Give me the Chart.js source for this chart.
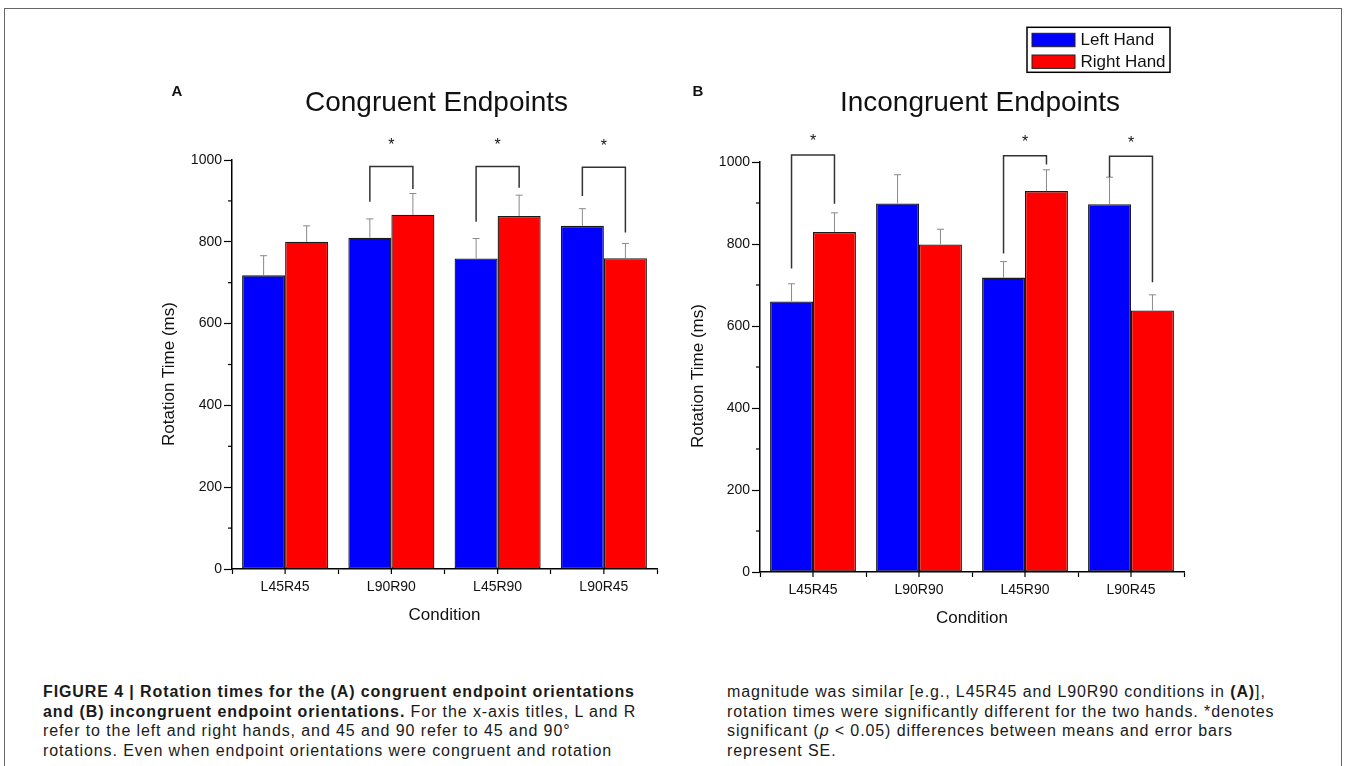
<!DOCTYPE html>
<html><head><meta charset="utf-8">
<script src="https://cdn.jsdelivr.net/npm/chart.js@4"></script>
<style>
html,body{margin:0;padding:0;background:#fff;width:1346px;height:766px;overflow:hidden;font-family:"Liberation Sans",Arial,sans-serif;}
#frame{position:absolute;left:4px;top:8px;width:1338px;height:800px;border:1px solid #666;box-sizing:border-box;}
canvas{position:absolute;top:0;}
#cA{left:150px;}
#cB{left:680px;}
.cap{position:absolute;font-size:16px;letter-spacing:0.9px;line-height:19.7px;color:#1a1a1a;white-space:nowrap;}
#capL{left:43px;top:682px;}
#capR{left:727px;top:682px;}
</style></head><body>
<div id="frame"></div>
<canvas id="cA" width="573" height="640"></canvas>
<canvas id="cB" width="560" height="640"></canvas>
<div class="cap" id="capL"><b>FIGURE 4 | Rotation times for the (A) congruent endpoint orientations</b><br><b>and (B) incongruent endpoint orientations.</b> For the x-axis titles, L and R<br>refer to the left and right hands, and 45 and 90 refer to 45 and 90°<br>rotations. Even when endpoint orientations were congruent and rotation</div>
<div class="cap" id="capR">magnitude was similar [e.g., L45R45 and L90R90 conditions in <b>(A)</b>],<br>rotation times were significantly different for the two hands. *denotes<br>significant (<i>p</i> &lt; 0.05) differences between means and error bars<br>represent SE.</div>
<script>
const categories = ['L45R45', 'L90R90', 'L45R90', 'L90R45'];
const seriesNames = ['Left Hand', 'Right Hand'];
const yTicks = [0, 200, 400, 600, 800, 1000];
const yMinorTicks = [100, 300, 500, 700, 900];

const congruentLeft = [718, 810, 759, 839];
const congruentRight = [800, 866, 863, 760];
const congruentLeftSE = [48, 46, 49, 42];
const congruentRightSE = [39, 52, 51, 36];
const congruentBracketTop = [null, 984, 984, 982];
const congruentBracketLeftEnd = [null, 898, 849, 912];
const congruentBracketRightEnd = [null, 929, 932, 823];

const incongruentLeft = [660, 899, 718, 897];
const incongruentRight = [829, 799, 929, 638];
const incongruentLeftSE = [43, 70, 39, 66];
const incongruentRightSE = [47, 37, 52, 38];
const incongruentBracketTop = [1017, null, 1015, 1014];
const incongruentBracketLeftEnd = [740, null, 777, 963];
const incongruentBracketRightEnd = [898, null, 994, 707];

const yAxisTitle = 'Rotation Time (ms)';
const xAxisTitle = 'Condition';

const FONT = '"Liberation Sans", Arial, sans-serif';
const seriesColors = ['#0000ff', '#ff0000'];

const decor = {
  id: 'decor',
  afterDatasetsDraw(chart, args, o) {
    const ctx = chart.ctx, xs = chart.scales.x, ys = chart.scales.y;
    const area = chart.chartArea;
    ctx.save();
    ctx.strokeStyle = '#000'; ctx.lineWidth = 1.2;
    yMinorTicks.forEach(v => {
      const py = ys.getPixelForValue(v);
      ctx.beginPath(); ctx.moveTo(area.left - 4, py); ctx.lineTo(area.left, py); ctx.stroke();
    });
    categories.forEach((c, i) => {
      const px = xs.getPixelForValue(i);
      ctx.beginPath(); ctx.moveTo(px, area.bottom); ctx.lineTo(px, area.bottom + 5); ctx.stroke();
    });
    ctx.strokeStyle = '#8a8a8a'; ctx.lineWidth = 1;
    chart.data.datasets.forEach((ds, di) => {
      const meta = chart.getDatasetMeta(di);
      ds.data.forEach((v, j) => {
        const px = meta.data[j].x;
        const y0 = ys.getPixelForValue(v);
        const y1 = ys.getPixelForValue(v + ds.se[j]);
        ctx.beginPath();
        ctx.moveTo(px, y0); ctx.lineTo(px, y1);
        ctx.moveTo(px - 3.5, y1); ctx.lineTo(px + 3.5, y1);
        ctx.stroke();
      });
    });
    const m0 = chart.getDatasetMeta(0), m1 = chart.getDatasetMeta(1);
    ctx.strokeStyle = '#333'; ctx.lineWidth = 1.5;
    ctx.fillStyle = '#111';
    ctx.font = '16px ' + FONT; ctx.textAlign = 'center'; ctx.textBaseline = 'middle';
    o.bracketTop.forEach((t, j) => {
      if (t === null) return;
      const xl = m0.data[j].x, xr = m1.data[j].x;
      const yt = ys.getPixelForValue(t);
      ctx.beginPath();
      ctx.moveTo(xl, ys.getPixelForValue(o.bracketLeftEnd[j]));
      ctx.lineTo(xl, yt); ctx.lineTo(xr, yt);
      ctx.lineTo(xr, ys.getPixelForValue(o.bracketRightEnd[j]));
      ctx.stroke();
      ctx.fillText('*', (xl + xr) / 2, yt - o.starOffset);
    });
    ctx.restore();
  },
  afterDraw(chart, args, o) {
    const ctx = chart.ctx;
    ctx.save();
    ctx.fillStyle = '#111';
    ctx.textBaseline = 'middle';
    ctx.textAlign = 'center';
    ctx.font = '28px ' + FONT;
    ctx.fillText(o.title, o.titleX, o.titleY);
    ctx.font = 'bold 15px ' + FONT;
    ctx.fillText(o.letter, o.letterX, o.letterY);
    ctx.save();
    ctx.translate(o.yTitleX, o.yTitleY);
    ctx.rotate(-Math.PI / 2);
    ctx.font = '17px ' + FONT;
    ctx.fillText(yAxisTitle, 0, 0);
    ctx.restore();
    if (o.legend) {
      const L = o.legend;
      ctx.lineWidth = 1.5; ctx.strokeStyle = '#000';
      ctx.strokeRect(L.x, L.y, L.w, L.h);
      ctx.font = '17px ' + FONT; ctx.textAlign = 'left';
      chart.data.datasets.forEach((ds, i) => {
        const sy = L.y + 6 + i * 21.7;
        ctx.fillStyle = ds.backgroundColor;
        ctx.fillRect(L.x + 5, sy, 43, 13.4);
        ctx.lineWidth = 1; ctx.strokeStyle = '#222';
        ctx.strokeRect(L.x + 5, sy, 43, 13.4);
        ctx.fillStyle = '#111';
        ctx.fillText(ds.label, L.x + 53.5, sy + 7);
      });
    }
    ctx.restore();
  }
};

function makeChart(id, leftVals, rightVals, leftSE, rightSE, opts) {
  return new Chart(document.getElementById(id), {
    type: 'bar',
    data: {
      labels: categories,
      datasets: [
        { label: seriesNames[0], data: leftVals, se: leftSE, backgroundColor: seriesColors[0] },
        { label: seriesNames[1], data: rightVals, se: rightSE, backgroundColor: seriesColors[1] }
      ]
    },
    options: {
      responsive: false,
      animation: false,
      devicePixelRatio: 1,
      layout: { padding: { left: 0, right: opts.padRight, top: opts.padTop, bottom: opts.padBottom } },
      datasets: { bar: { categoryPercentage: 0.81, barPercentage: 1.0, borderWidth: 1.3, borderColor: '#1a1a1a', borderSkipped: false } },
      plugins: {
        legend: { display: false },
        tooltip: { enabled: false },
        decor: opts.decor
      },
      scales: {
        x: {
          grid: { offset: true, drawOnChartArea: false, tickLength: 5, tickColor: '#000', tickWidth: 1.2 },
          border: { display: true, color: '#000', width: 1.5 },
          ticks: { font: { size: 14, family: FONT }, color: '#111', padding: 5 },
          title: { display: true, text: xAxisTitle, font: { size: 17, family: FONT }, color: '#111', padding: { top: 0, bottom: 3 } },
          afterFit: s => { s.height = 60; }
        },
        y: {
          min: 0, max: 1000,
          afterBuildTicks: s => { s.ticks = yTicks.map(v => ({ value: v })); },
          grid: { drawOnChartArea: false, tickLength: 8, tickColor: '#000', tickWidth: 1.2 },
          border: { display: true, color: '#000', width: 1.5 },
          ticks: { font: { size: 14, family: FONT }, color: '#111', padding: 2, callback: v => String(v) },
          title: { display: false },
          afterFit: s => { s.width = opts.yWidth; }
        }
      }
    },
    plugins: [decor]
  });
}

makeChart('cA', congruentLeft, congruentRight, congruentLeftSE, congruentRightSE, {
  padRight: 66, padTop: 160, padBottom: 11, yWidth: 82,
  decor: {
    title: 'Congruent Endpoints', titleX: 286.5, titleY: 103,
    letter: 'A', letterX: 27, letterY: 92,
    yTitleX: 19, yTitleY: 374,
    bracketTop: congruentBracketTop, bracketLeftEnd: congruentBracketLeftEnd, bracketRightEnd: congruentBracketRightEnd,
    starOffset: 21, legend: null
  }
});

makeChart('cB', incongruentLeft, incongruentRight, incongruentLeftSE, incongruentRightSE, {
  padRight: 56, padTop: 162, padBottom: 8, yWidth: 80,
  decor: {
    title: 'Incongruent Endpoints', titleX: 300, titleY: 103,
    letter: 'B', letterX: 18, letterY: 92,
    yTitleX: 18, yTitleY: 376,
    bracketTop: incongruentBracketTop, bracketLeftEnd: incongruentBracketLeftEnd, bracketRightEnd: incongruentBracketRightEnd,
    starOffset: 13,
    legend: { x: 347, y: 27.3, w: 143, h: 45 }
  }
});
</script>
</body></html>
